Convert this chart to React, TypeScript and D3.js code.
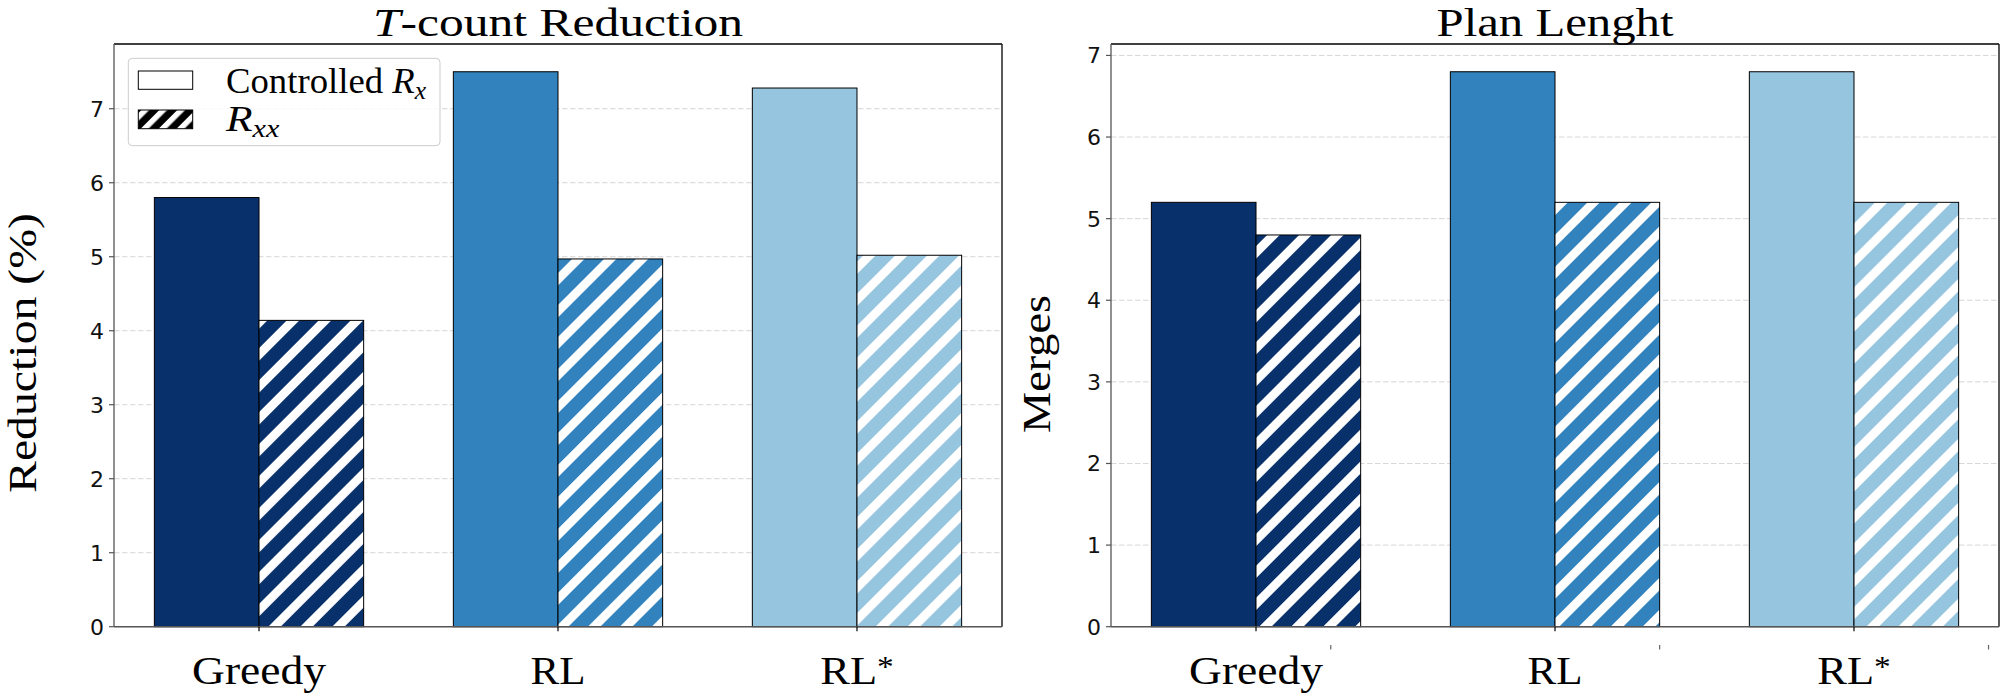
import React, { useEffect, useRef } from "react";
import * as d3 from "d3";

const categories = ["Greedy", "RL", "RL*"];
const reductionControlled = [5.8, 7.5, 7.28];
const reductionRxx = [4.14, 4.97, 5.02];
const mergesControlled = [5.2, 6.8, 6.8];
const mergesRxx = [4.8, 5.2, 5.2];
const barColors = ["#08306b", "#3182bd", "#96c5df"];
const yTicksReduction = [0, 1, 2, 3, 4, 5, 6, 7];
const yTicksMerges = [0, 1, 2, 3, 4, 5, 6, 7];
const strayTicks = [0.25, 1.35, 2.45];

const SERIF = "'Liberation Serif', 'DejaVu Serif', serif";
const SANS = "'DejaVu Sans', sans-serif";

const W = 2000;
const H = 694;
const TOP = 44;
const BOTTOM = 626.7;
const BAR_W = 0.35;

type Panel = {
  x0: number;
  x1: number;
  controlled: number[];
  rxx: number[];
  ticks: number[];
  title: string;
  titleItalic: string;
  titleW: number;
  ylabel: string;
  ylabelW: number;
  ylabelX: number;
  ylabelY: number;
  legend: boolean;
  stray: boolean;
};

const panels: Panel[] = [
  {
    x0: 114, x1: 1002, controlled: reductionControlled, rxx: reductionRxx, ticks: yTicksReduction,
    title: "-count Reduction", titleItalic: "T", titleW: 370,
    ylabel: "Reduction (%)", ylabelW: 280, ylabelX: 36, ylabelY: 353, legend: true, stray: false,
  },
  {
    x0: 1111, x1: 1999, controlled: mergesControlled, rxx: mergesRxx, ticks: yTicksMerges,
    title: "Plan Lenght", titleItalic: "", titleW: 237,
    ylabel: "Merges", ylabelW: 138, ylabelX: 1050, ylabelY: 364, legend: false, stray: true,
  },
];

const labelWidths = [134, 55, 73.5];

function fit(sel: any, target: number) {
  const node = sel.node() as SVGTextElement | null;
  if (!node) return;
  sel.attr("transform", null);
  const w = node.getBBox().width;
  if (w > 0) sel.attr("transform", `scale(${target / w},1)`);
}

export default function App() {
  const ref = useRef<SVGSVGElement>(null);
  useEffect(() => {
    const draw = () => {
      const svg = d3.select(ref.current);
      svg.selectAll("*").remove();
      svg.append("rect").attr("width", W).attr("height", H).attr("fill", "white");
      const defs = svg.append("defs");
      barColors.forEach((c, i) => {
        const p = defs.append("pattern").attr("id", `hatch${i}`).attr("patternUnits", "userSpaceOnUse")
          .attr("width", 22.6).attr("height", 10).attr("patternTransform", "rotate(45)");
        p.append("rect").attr("width", 22.6).attr("height", 10).attr("fill", c);
        p.append("rect").attr("x", 0).attr("width", 8.8).attr("height", 10).attr("fill", "white");
      });
      {
        const p = defs.append("pattern").attr("id", "hatchL").attr("patternUnits", "userSpaceOnUse")
          .attr("width", 12.7).attr("height", 10).attr("patternTransform", "rotate(45)");
        p.append("rect").attr("width", 12.7).attr("height", 10).attr("fill", "black");
        p.append("rect").attr("x", 0).attr("width", 5.5).attr("height", 10).attr("fill", "white");
      }

      panels.forEach((pn) => {
        const n = categories.length;
        const pad = 0.05 * (n - 1 + 2 * BAR_W);
        const x = d3.scaleLinear().domain([-BAR_W - pad, n - 1 + BAR_W + pad]).range([pn.x0, pn.x1]);
        const ymax = (d3.max([...pn.controlled, ...pn.rxx]) as number) * 1.05;
        const y = d3.scaleLinear().domain([0, ymax]).range([BOTTOM, TOP]);
        const g = svg.append("g");

        // grid
        g.selectAll("line.grid").data(pn.ticks.filter((t) => t > 0)).join("line")
          .attr("x1", pn.x0).attr("x2", pn.x1).attr("y1", (d) => y(d)).attr("y2", (d) => y(d))
          .attr("stroke", "#d6d6d6").attr("stroke-width", 1).attr("stroke-dasharray", "5.5,2.5");

        // bars
        categories.forEach((_, i) => {
          g.append("rect").attr("x", x(i - BAR_W)).attr("width", x(i) - x(i - BAR_W))
            .attr("y", y(pn.controlled[i])).attr("height", BOTTOM - y(pn.controlled[i]))
            .attr("fill", barColors[i]).attr("stroke", "black").attr("stroke-width", 1);
          g.append("rect").attr("x", x(i)).attr("width", x(i + BAR_W) - x(i))
            .attr("y", y(pn.rxx[i])).attr("height", BOTTOM - y(pn.rxx[i]))
            .attr("fill", `url(#hatch${i})`).attr("stroke", "black").attr("stroke-width", 1);
        });

        // spines
        g.append("line").attr("x1", pn.x0).attr("x2", pn.x1).attr("y1", TOP).attr("y2", TOP)
          .attr("stroke", "black").attr("stroke-width", 1.3);
        g.append("line").attr("x1", pn.x1).attr("x2", pn.x1).attr("y1", TOP).attr("y2", BOTTOM)
          .attr("stroke", "black").attr("stroke-width", 1.3);
        g.append("line").attr("x1", pn.x0).attr("x2", pn.x0).attr("y1", TOP).attr("y2", BOTTOM)
          .attr("stroke", "#555").attr("stroke-width", 1.3);
        g.append("line").attr("x1", pn.x0).attr("x2", pn.x1).attr("y1", BOTTOM).attr("y2", BOTTOM)
          .attr("stroke", "#555").attr("stroke-width", 1.6);

        // y ticks
        pn.ticks.forEach((t) => {
          g.append("line").attr("x1", pn.x0 - 5).attr("x2", pn.x0).attr("y1", y(t)).attr("y2", y(t))
            .attr("stroke", "#555").attr("stroke-width", 1.2);
          g.append("text").attr("x", pn.x0 - 10).attr("y", y(t)).attr("dy", "0.36em")
            .attr("text-anchor", "end").attr("font-family", SANS).attr("font-size", 22)
            .attr("fill", "#111").text(String(t));
        });

        // x ticks + labels
        categories.forEach((c, i) => {
          g.append("line").attr("x1", x(i)).attr("x2", x(i)).attr("y1", BOTTOM).attr("y2", BOTTOM + 4.5)
            .attr("stroke", "black").attr("stroke-width", 1.2);
          const lg = g.append("g").attr("transform", `translate(${x(i)},684)`);
          const t = lg.append("text").attr("text-anchor", "middle").attr("font-family", SERIF)
            .attr("font-size", 40).attr("fill", "black");
          if (c.endsWith("*")) {
            t.append("tspan").text(c.slice(0, -1));
            t.append("tspan").attr("font-size", 30).attr("dy", -8).text("*");
          } else {
            t.text(c);
          }
          fit(t, labelWidths[i]);
        });

        if (pn.stray) {
          strayTicks.forEach((s) => {
            g.append("line").attr("x1", x(s)).attr("x2", x(s)).attr("y1", 645).attr("y2", 649.5)
              .attr("stroke", "#666").attr("stroke-width", 1.2);
          });
        }

        // title
        {
          const tg = g.append("g").attr("transform", `translate(${(pn.x0 + pn.x1) / 2},36)`);
          const t = tg.append("text").attr("text-anchor", "middle").attr("font-family", SERIF)
            .attr("font-size", 40).attr("fill", "black");
          if (pn.titleItalic) t.append("tspan").attr("font-style", "italic").text(pn.titleItalic);
          t.append("tspan").text(pn.title);
          fit(t, pn.titleW);
        }

        // y label
        {
          const yg = g.append("g").attr("transform", `translate(${pn.ylabelX},${pn.ylabelY}) rotate(-90)`);
          const t = yg.append("text").attr("text-anchor", "middle").attr("font-family", SERIF)
            .attr("font-size", 39).attr("fill", "black").text(pn.ylabel);
          fit(t, pn.ylabelW);
        }

        // legend
        if (pn.legend) {
          const L = g.append("g");
          L.append("rect").attr("x", 128.3).attr("y", 58.3).attr("width", 311.7).attr("height", 87.4)
            .attr("rx", 4).attr("fill", "white").attr("fill-opacity", 0.85)
            .attr("stroke", "#cccccc").attr("stroke-width", 1);
          L.append("rect").attr("x", 138.3).attr("y", 71).attr("width", 54.4).attr("height", 18.3)
            .attr("fill", "white").attr("stroke", "black").attr("stroke-width", 1);
          L.append("rect").attr("x", 138.3).attr("y", 110).attr("width", 54.4).attr("height", 18.7)
            .attr("fill", "url(#hatchL)").attr("stroke", "black").attr("stroke-width", 1);

          const l1 = L.append("g").attr("transform", "translate(226,93)");
          const t1 = l1.append("text").attr("font-family", SERIF).attr("font-size", 36).attr("fill", "black");
          t1.append("tspan").text("Controlled ");
          t1.append("tspan").attr("font-style", "italic").text("R");
          t1.append("tspan").attr("font-style", "italic").attr("font-size", 25).attr("dy", 6).text("x");
          fit(t1, 200);

          const l2 = L.append("g").attr("transform", "translate(226,131)");
          const t2 = l2.append("text").attr("font-family", SERIF).attr("font-size", 36).attr("fill", "black");
          t2.append("tspan").attr("font-style", "italic").text("R");
          t2.append("tspan").attr("font-style", "italic").attr("font-size", 25).attr("dy", 6).text("xx");
          fit(t2, 54.6);
        }
      });
    };
    draw();
    if ((document as any).fonts && (document as any).fonts.ready) {
      (document as any).fonts.ready.then(draw);
    }
  }, []);
  return (
    <svg
      ref={ref}
      width={W}
      height={H}
      style={{ position: "absolute", left: 0, top: 0, display: "block" }}
    />
  );
}
